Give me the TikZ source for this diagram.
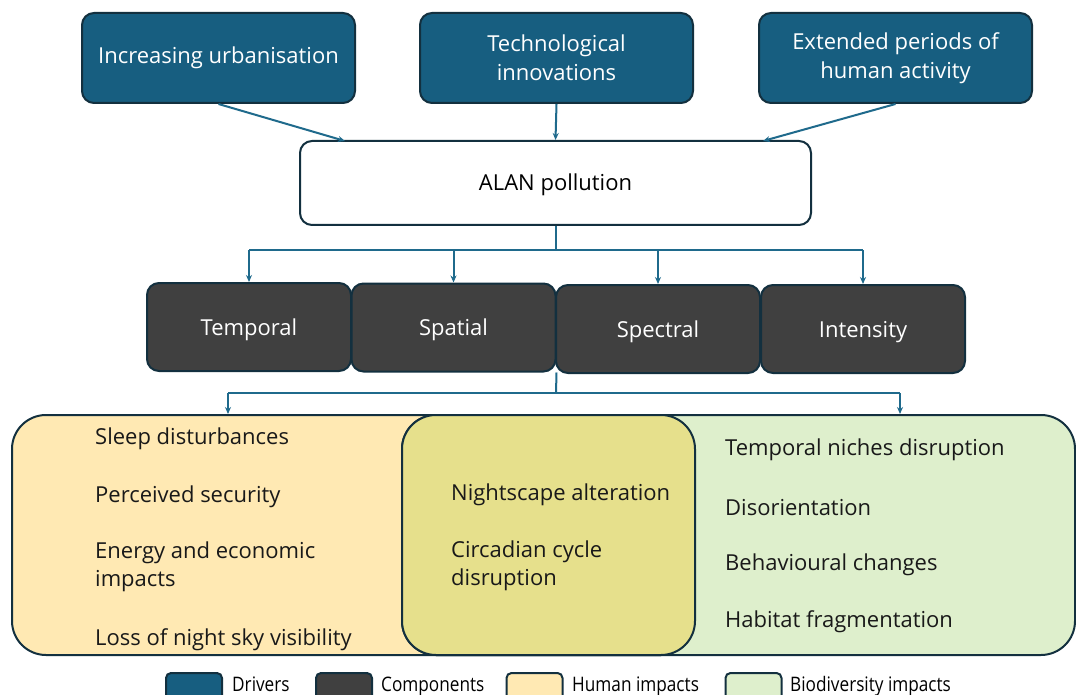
\documentclass[tikz,border=0pt]{standalone}
\usepackage{fontspec}
\setmainfont{Open Sans}
\newfontfamily\legendfont[FakeStretch=0.86]{Open Sans}
\usetikzlibrary{arrows.meta}
\definecolor{drivercol}{HTML}{175E80}
\definecolor{compcol}{HTML}{404040}
\definecolor{humancol}{HTML}{FFE9B3}
\definecolor{biocol}{HTML}{DEEFCC}
\definecolor{bothcol}{HTML}{E6E08C}
\definecolor{edgecol}{HTML}{13303F}
\definecolor{flowcol}{HTML}{1F6A8C}
\begin{document}
\begin{tikzpicture}[x=1pt,y=-1pt,
    every node/.style={inner sep=0pt, font=\fontsize{22}{28.5}\selectfont},
    driver/.style={draw=edgecol, line width=2pt, fill=drivercol, rounded corners=12pt, minimum width=273pt, minimum height=90pt, text=white, align=center},
    comp/.style={draw=edgecol, line width=2pt, fill=compcol, rounded corners=12pt, minimum width=204pt, minimum height=88pt, text=white, text height=19pt, text depth=3pt},
    impact/.style={draw=edgecol, line width=2pt, rounded corners=34pt, minimum height=240pt},
    item/.style={anchor=west, align=left, text=black!90},
    key/.style={draw=edgecol, line width=2pt, rounded corners=5pt, minimum width=56pt, minimum height=28pt},
    keytext/.style={anchor=base west, font=\legendfont\fontsize{20}{22}\selectfont},
    flow/.style={draw=flowcol, line width=2pt, -{Stealth[length=7pt,width=6pt]}},
    link/.style={draw=flowcol, line width=2pt}]
    \clip (0,0) rectangle (1076,695);
    \fill[white] (0,0) rectangle (1076,695);

    % drivers
    \node (urban) at (218.5,58) [driver] {Increasing urbanisation};
    \node (tech) at (556.5,58) [driver] {Technological\\innovations};
    \node (ext) at (895.5,58) [driver] {Extended periods of\\human activity};

    \node (alan) at (555.5,183) [draw=edgecol, line width=2pt, fill=white, rounded corners=12pt, minimum width=511pt, minimum height=84pt, text height=19pt, text depth=3pt] {ALAN pollution};

    \coordinate (in1) at (345,141);
    \coordinate (in3) at (763,141);
    \draw[flow] (urban.south) -- (in1);
    \draw[flow] (tech.south) -- (alan.north);
    \draw[flow] (ext.south) -- (in3);

    % components
    \node (temp) at (249,327) [comp] {Temporal};
    \node (spat) at (453.5,327.5) [comp] {Spatial};
    \node (spec) at (658,329) [comp] {Spectral};
    \node (inte) at (863,329) [comp] {Intensity};

    \coordinate (j1) at (555.5,250);
    \draw[link] (alan.south) -- (j1);
    \draw[link] (temp.north |- j1) -- (inte.north |- j1);
    \foreach \c in {temp,spat,spec,inte}
        \draw[flow] (\c.north |- j1) -- (\c.north);

    % impacts
    \node (human) at (353.5,535) [impact, fill=humancol, minimum width=683pt] {};
    \node (bio) at (738.5,535) [impact, fill=biocol, minimum width=673pt] {};
    \node (both) at (548.5,535) [impact, fill=bothcol, minimum width=293pt] {};

    \coordinate (j2) at (556,393);
    \coordinate (hl) at (228,393);
    \coordinate (br) at (900,393);
    \draw[link] (spat.south east) -- (j2);
    \draw[link] (hl) -- (br);
    \draw[flow] (hl) -- (hl |- human.north);
    \draw[flow] (br) -- (br |- bio.north);

    \node (h1) at (95,439) [item] {Sleep disturbances};
    \node (h2) at (95,497) [item] {Perceived security};
    \node (h3) at (95,567) [item] {Energy and economic\\impacts};
    \node (h4) at (95,640) [item] {Loss of night sky visibility};

    \node (o1) at (451,495) [item] {Nightscape alteration};
    \node (o2) at (451,566) [item] {Circadian cycle\\disruption};

    \node (b1) at (725,450) [item] {Temporal niches disruption};
    \node (b2) at (725,508) [item] {Disorientation};
    \node (b3) at (725,565) [item] {Behavioural changes};
    \node (b4) at (725,622) [item] {Habitat fragmentation};

    % legend
    \node (k1) at (194,687) [key, fill=drivercol] {};
    \node (t1) at (232,691) [keytext] {Drivers};
    \node (k2) at (344,687) [key, fill=compcol] {};
    \node (t2) at (381,691) [keytext] {Components};
    \node (k3) at (534.5,687) [key, fill=humancol] {};
    \node (t3) at (572,691) [keytext] {Human impacts};
    \node (k4) at (753.5,687) [key, fill=biocol] {};
    \node (t4) at (790,691) [keytext] {Biodiversity impacts};
\end{tikzpicture}
\end{document}
